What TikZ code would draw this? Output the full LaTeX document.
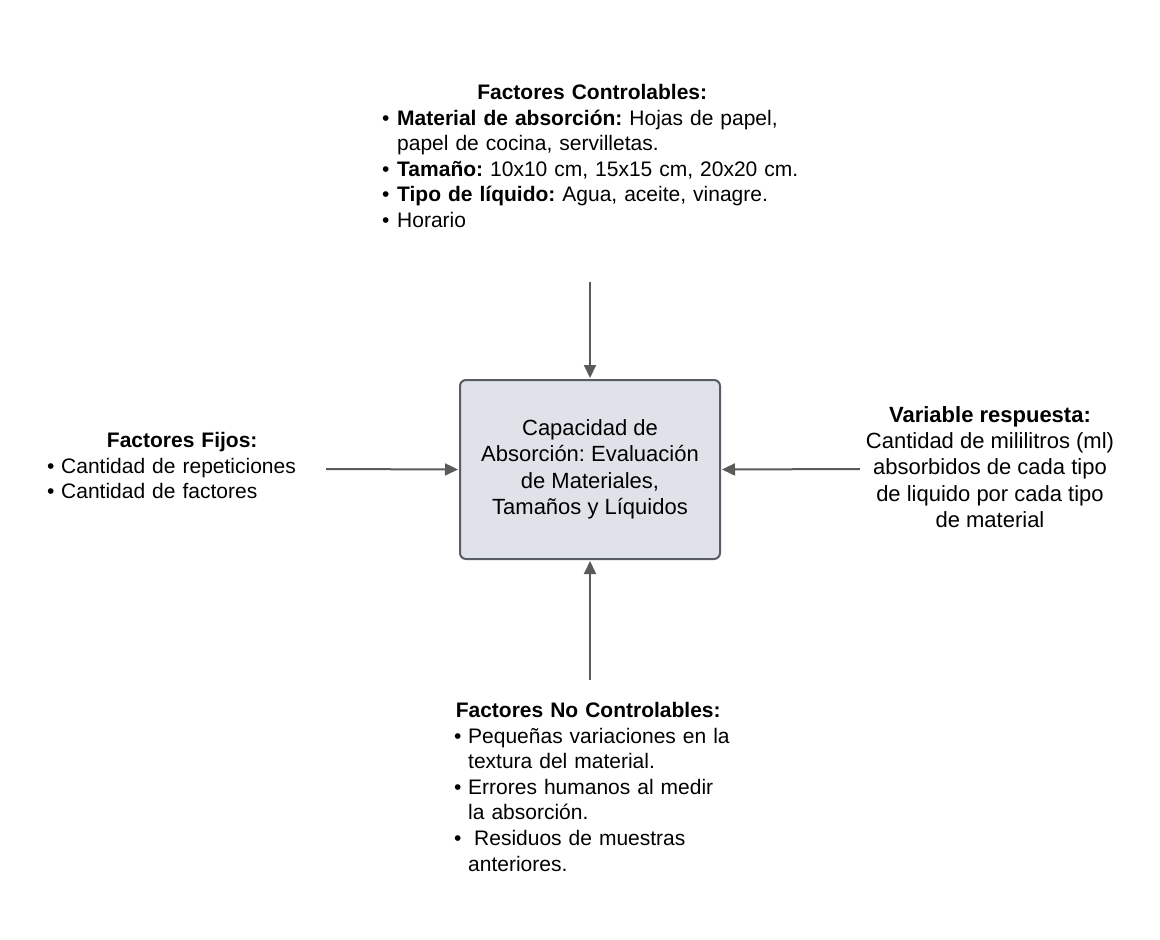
\documentclass[tikz,border=0pt]{standalone}
\usepackage{fontspec}
\setmainfont{Liberation Sans}
\usepackage{tikz}
\usetikzlibrary{arrows.meta,positioning}
\frenchspacing
\definecolor{cajagris}{RGB}{223,227,233}
\definecolor{bordegris}{RGB}{88,92,100}
\definecolor{flechagris}{RGB}{90,90,90}
\newcommand{\punto}[1]{\par\noindent\hangindent=#1\hangafter=1\makebox[#1][l]{\textbullet}}
\tikzset{
  centrobox/.style={
    rectangle, rounded corners=6pt, draw=bordegris, fill=cajagris,
    line width=2pt, minimum width=260pt, minimum height=179pt,
    align=center, inner sep=0pt, font=\fontsize{22}{26.4}\selectfont
  },
  listabox/.style={
    rectangle, inner sep=0pt, anchor=north west, align=left,
    font=\fontsize{21}{25.6}\selectfont\setlength{\parskip}{0pt}
  },
  textobox/.style={
    rectangle, inner sep=0pt, align=center,
    font=\fontsize{22}{26.4}\selectfont
  },
  flecha/.style={-{Triangle[length=13pt,width=12pt]}, line width=2pt,
    flechagris, shorten >=1pt}
}
\begin{document}
\begin{tikzpicture}[x=1pt, y=-1pt]
  \useasboundingbox (0,0) rectangle (1160,940);

  % Caja central
  \node[centrobox] (caja) at (590,469.5) {Capacidad de\\Absorción: Evaluación\\de Materiales,\\Tamaños y Líquidos};

  % Factores
  \node[listabox, text width=420pt] (control) at (382,84) {%
    {\centering\textbf{Factores Controlables:}\par}
    \punto{15pt}\textbf{Material de absorción:} Hojas de papel,\newline papel de cocina, servilletas.
    \punto{15pt}\textbf{Tamaño:} 10x10 cm, 15x15 cm, 20x20 cm.
    \punto{15pt}\textbf{Tipo de líquido:} Agua, aceite, vinagre.
    \punto{15pt}Horario\par};
  \node[listabox, text width=270pt] (fijos) at (47,432) {%
    {\centering\textbf{Factores Fijos:}\par}
    \punto{14pt}Cantidad de repeticiones
    \punto{14pt}Cantidad de factores\par};
  \node[listabox, text width=280pt] (nocontrol) at (454,702) {%
    {\centering\hspace*{-12pt}\textbf{Factores No Controlables:}\par}
    \punto{14pt}Pequeñas variaciones en la\newline textura del material.
    \punto{14pt}Errores humanos al medir\newline la absorción.
    \punto{14pt}\hspace{6pt}Residuos de muestras\newline anteriores.\par};
  \node[textobox] (respuesta) at (990,467) {\textbf{Variable respuesta:}\\Cantidad de mililitros (ml)\\absorbidos de cada tipo\\de liquido por cada tipo\\de material};

  % Flechas
  \coordinate (control-in) at (590,282);
  \coordinate (fijos-in) at (326,469);
  \coordinate (nocontrol-in) at (590,680);
  \coordinate (respuesta-in) at (860,469);
  \draw[flecha] (control-in) -- (caja.north);
  \draw[flecha] (fijos-in) -- (caja.west);
  \draw[flecha] (nocontrol-in) -- (caja.south);
  \draw[flecha] (respuesta-in) -- (caja.east);
\end{tikzpicture}
\end{document}
